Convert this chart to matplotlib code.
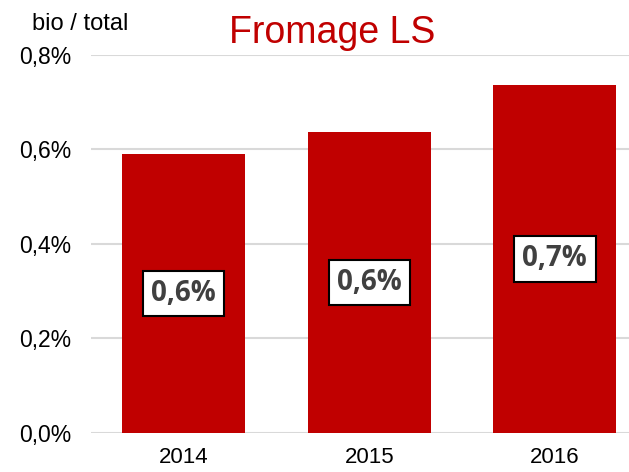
import matplotlib
matplotlib.use('Agg')
import matplotlib.pyplot as plt
from matplotlib.ticker import FuncFormatter

# data
years = ['2014', '2015', '2016']
share = [0.590, 0.636, 0.736]          # bio / total, in %
labels = ['0,6%', '0,6%', '0,7%']
yticks = [0.0, 0.2, 0.4, 0.6, 0.8]

red = '#C00000'

fig = plt.figure(figsize=(6.29, 4.72), dpi=100)
ax = fig.add_axes([91 / 629, 39.3 / 472, 538 / 629, 377.7 / 472])

x = range(len(years))
bars = ax.bar(x, share, width=0.665, color=red, zorder=3)

ax.set_xlim(-0.5, 2.4)
ax.set_ylim(0, 0.8)
ax.set_yticks(yticks)
ax.yaxis.set_major_formatter(FuncFormatter(lambda v, p: ('%.1f%%' % v).replace('.', ',')))
ax.set_xticks(list(x))
ax.set_xticklabels(years)

ax.grid(axis='y', color='#D9D9D9', linewidth=1.5, zorder=0)
for s in ax.spines.values():
    s.set_visible(False)
ax.tick_params(length=0, labelsize=16.5, labelcolor='black')
ax.tick_params(axis='x', labelsize=16, pad=10)
ax.tick_params(axis='y', pad=14)
for t in ax.get_xticklabels() + ax.get_yticklabels():
    t.set_family('Liberation Sans')

# centered value labels in boxes
for b, lab in zip(bars, labels):
    ax.text(b.get_x() + b.get_width() / 2, b.get_height() / 2, lab,
            ha='center', va='center', fontsize=20, fontweight='bold',
            color='#404040', family='Open Sans', zorder=4,
            bbox=dict(boxstyle='square,pad=0.3', facecolor='white',
                      edgecolor='black', linewidth=1.5))

fig.text(332 / 629, 1 - 43 / 472, 'Fromage LS', ha='center', va='baseline',
         fontsize=27, color=red, family='Liberation Sans')
fig.text(32 / 629, 1 - 29.5 / 472, 'bio / total', ha='left', va='baseline',
         fontsize=17, color='black', family='Liberation Sans')

fig.savefig('out.png', dpi=100)
